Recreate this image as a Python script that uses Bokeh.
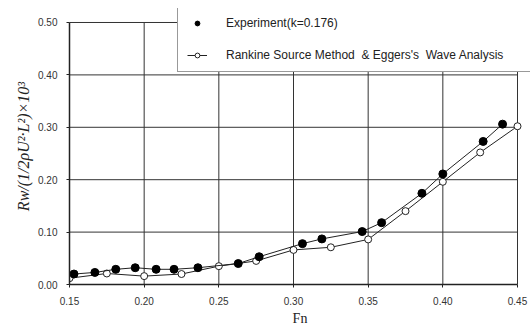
from bokeh.plotting import figure
from bokeh.models import Legend, LegendItem, FixedTicker, PrintfTickFormatter
from bokeh.embed import file_html
from bokeh.resources import INLINE

# Experiment (k=0.176)
exp_fn = [0.153, 0.167, 0.181, 0.194, 0.208, 0.220, 0.236, 0.263, 0.277,
          0.306, 0.319, 0.346, 0.359, 0.386, 0.400, 0.427, 0.440]
exp_rw = [0.020, 0.023, 0.029, 0.032, 0.029, 0.029, 0.032, 0.040, 0.053,
          0.078, 0.087, 0.101, 0.118, 0.174, 0.211, 0.273, 0.306]

# Rankine Source Method & Eggers's Wave Analysis
rk_fn = [0.150, 0.175, 0.200, 0.225, 0.250, 0.275, 0.300, 0.325, 0.350,
         0.375, 0.400, 0.425, 0.450]
rk_rw = [0.012, 0.021, 0.016, 0.020, 0.035, 0.045, 0.066, 0.071, 0.086,
         0.140, 0.196, 0.252, 0.302]

x_ticks = [0.15, 0.20, 0.25, 0.30, 0.35, 0.40, 0.45]
y_ticks = [0.0, 0.1, 0.2, 0.3, 0.4, 0.5]
x_lo, x_hi = x_ticks[0], x_ticks[-1]
y_lo, y_hi = y_ticks[0], y_ticks[-1]

# frame extends a little above / right of the axes box so the legend can overhang
p = figure(frame_width=461, frame_height=276,
           x_range=(x_lo, x_hi + 0.0087), y_range=(y_lo, y_hi + 0.0267),
           output_backend="svg", toolbar_location=None,
           min_border_left=69, min_border_right=0,
           min_border_top=8, min_border_bottom=40)
p.background_fill_color = "white"
p.border_fill_color = "white"
p.outline_line_color = None
p.xgrid.visible = False
p.ygrid.visible = False

p.xaxis.ticker = FixedTicker(ticks=x_ticks)
p.yaxis.ticker = FixedTicker(ticks=y_ticks)
p.xaxis.bounds = (x_lo, x_hi)
p.yaxis.bounds = (y_lo, y_hi)
p.xaxis.formatter = PrintfTickFormatter(format="%.2f")
p.yaxis.formatter = PrintfTickFormatter(format="%.2f")
p.xaxis.minor_tick_line_color = None
p.yaxis.minor_tick_line_color = None
for ax in (p.xaxis, p.yaxis):
    ax.axis_line_color = "#222222"
    ax.axis_line_width = 1.5
    ax.major_tick_line_color = "#222222"
    ax.major_tick_in = 0
    ax.major_tick_out = 3
    ax.major_label_text_font = "Liberation Sans"
    ax.major_label_text_font_size = "10px"
    ax.major_label_text_color = "#333333"
p.yaxis.major_label_standoff = 9
p.xaxis.major_label_standoff = 9

p.xaxis.axis_label = "Fn"
p.xaxis.axis_label_text_font = "Liberation Serif"
p.xaxis.axis_label_text_font_style = "normal"
p.xaxis.axis_label_text_font_size = "14px"
p.xaxis.axis_label_text_color = "#222222"
p.xaxis.axis_label_standoff = 3

p.yaxis.axis_label = "Rw/(1/2ρU²·L²)×10³"
p.yaxis.axis_label_text_font = "Liberation Serif"
p.yaxis.axis_label_text_font_style = "italic"
p.yaxis.axis_label_text_font_size = "16px"
p.yaxis.axis_label_text_color = "#222222"
p.yaxis.axis_label_standoff = 3

# grid lines confined to the axes box, built from the tick lists
p.segment(x0=x_ticks, y0=[y_lo] * len(x_ticks), x1=x_ticks, y1=[y_hi] * len(x_ticks),
          line_color="#333333", line_width=1)
p.segment(x0=[x_lo] * len(y_ticks), y0=y_ticks, x1=[x_hi] * len(y_ticks), y1=y_ticks,
          line_color="#333333", line_width=1)

rk_line = p.line(rk_fn, rk_rw, line_color="#222222", line_width=1)
rk_pts = p.scatter(rk_fn, rk_rw, marker="circle", size=7,
                   fill_color="white", line_color="#222222", line_width=1)
exp_line = p.line(exp_fn, exp_rw, line_color="#222222", line_width=1)
exp_pts = p.scatter(exp_fn, exp_rw, marker="circle", size=8,
                    fill_color="black", line_color="black")

legend = Legend(items=[
    LegendItem(label="Experiment(k=0.176)", renderers=[exp_pts]),
    LegendItem(label="Rankine Source Method  & Eggers's  Wave Analysis",
               renderers=[rk_line, rk_pts]),
], location=(108, 212))
legend.padding = 9
legend.spacing = 18
legend.label_height = 12
legend.glyph_height = 12
legend.glyph_width = 20
legend.label_standoff = 19
legend.label_width = 313
legend.label_text_font = "Liberation Sans"
legend.label_text_font_size = "12px"
legend.label_text_color = "#222222"
legend.border_line_color = "#333333"
legend.border_line_width = 1
legend.background_fill_color = "white"
legend.background_fill_alpha = 1.0
p.add_layout(legend, "center")

open("out.html", "w").write(file_html(p, INLINE))
